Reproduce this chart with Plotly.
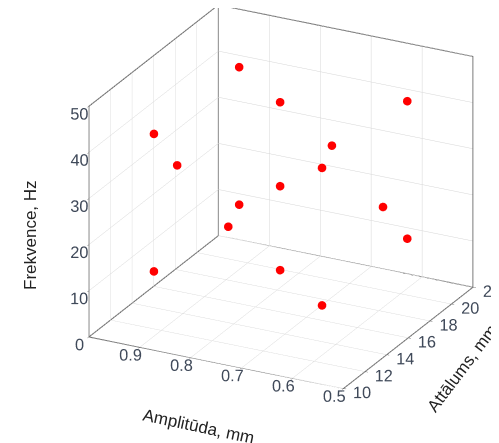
import plotly.graph_objects as go

# Values (central composite design layout)
amplitude = [0.90, 0.57, 0.90, 0.57, 0.90, 0.57, 0.90, 0.57, 0.736, 0.736, 0.736, 0.938, 0.534, 0.736, 0.736]
distance = [11.3, 11.3, 19.2, 19.2, 11.3, 11.3, 19.2, 19.2, 15.25, 15.25, 15.25, 15.25, 15.25, 10.45, 20.05]
frequency = [43.9, 43.9, 43.9, 43.9, 14.1, 14.1, 14.1, 14.1, 29.0, 47.2, 10.8, 29.0, 29.0, 29.0, 29.0]

x_range = [0.5, 1.0]
y_range = [10, 22]
z_range = [0, 50]
x_ticks = [0.5, 0.6, 0.7, 0.8, 0.9]
y_ticks = [10, 12, 14, 16, 18, 20, 22]
z_ticks = [0, 10, 20, 30, 40, 50]
x_title = 'Amplitūda, mm'
y_title = 'Attālums, mm'
z_title = 'Frekvence, Hz'

# outline of the three back panes, built from the axis ranges
xl, xh = x_range[1], x_range[0]   # left (1.0) and right (0.5) on screen
yf, yb = y_range
zb, zt = z_range
corners = {
    'A': (xl, yf, zb), 'B': (xh, yf, zb), 'C': (xh, yb, zb), 'D': (xl, yb, zb),
    'At': (xl, yf, zt), 'Ct': (xh, yb, zt), 'Dt': (xl, yb, zt),
}
path = ['A', 'B', 'C', 'Ct', 'Dt', 'At', 'A', 'D', 'C', 'D', 'Dt']

fig = go.Figure()
fig.add_trace(go.Scatter3d(
    x=[corners[k][0] for k in path], y=[corners[k][1] for k in path], z=[corners[k][2] for k in path],
    mode='lines', line=dict(color='#5a5a5a', width=2), hoverinfo='skip', showlegend=False,
))
fig.add_trace(go.Scatter3d(
    x=amplitude, y=distance, z=frequency, mode='markers',
    marker=dict(size=5, color='#ff0000', line=dict(width=0)),
    showlegend=False, hoverinfo='x+y+z',
))
axis_common = dict(
    showbackground=False, showgrid=True, gridcolor='#d6d6d6', gridwidth=1,
    showline=False, zeroline=False,
    ticks='outside', ticklen=3, tickcolor='#555555', tickangle=0,
    tickfont=dict(family='Liberation Sans, Arial', size=14, color='#404a5a'),
    title=dict(text=''),
    showspikes=False,
)
cen = dict(x=-0.068, y=-0.100, z=-0.136)
dirv = (0.416, -0.818, 0.398)
dist = 1.6
zoom = 1.29
title_font = dict(family='Liberation Sans, Arial', size=17, color='#222222')
fig.update_layout(
    width=499, height=443, margin=dict(l=0, r=0, t=0, b=0),
    paper_bgcolor='white',
    scene=dict(
        xaxis=dict(axis_common, range=[x_range[1], x_range[0]], autorange=False, tickvals=x_ticks),
        yaxis=dict(axis_common, range=y_range, tickvals=y_ticks),
        zaxis=dict(axis_common, range=z_range, tickvals=z_ticks),
        aspectmode='manual', aspectratio=dict(x=1 * zoom, y=1.0 * zoom, z=0.88 * zoom),
        camera=dict(
            eye=dict(x=cen['x'] + dist * dirv[0], y=cen['y'] + dist * dirv[1], z=cen['z'] + dist * dirv[2]),
            center=cen, up=dict(x=0, y=0, z=1),
            projection=dict(type='orthographic')),
        domain=dict(x=[0, 1], y=[0, 1]),
    ),
    annotations=[
        dict(text=x_title, x=190 / 499, y=1 - 418 / 443, xref='paper', yref='paper', showarrow=False,
             xanchor='center', yanchor='middle', textangle=12, font=title_font),
        dict(text=y_title, x=454 / 499, y=1 - 360 / 443, xref='paper', yref='paper', showarrow=False,
             xanchor='center', yanchor='middle', textangle=-53, font=title_font),
        dict(text=z_title, x=22 / 499, y=1 - 227 / 443, xref='paper', yref='paper', showarrow=False,
             xanchor='center', yanchor='middle', textangle=-90, font=title_font),
    ],
)
fig.write_html("out.html")
